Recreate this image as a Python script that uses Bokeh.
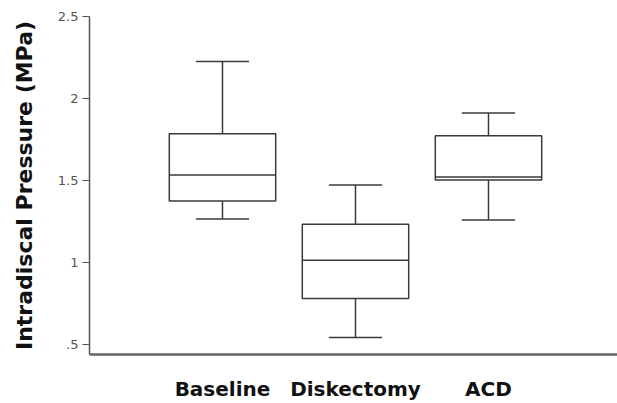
from bokeh.plotting import figure
from bokeh.models import FixedTicker, Range1d
from bokeh.embed import file_html
from bokeh.resources import INLINE

categories = ["Baseline", "Diskectomy", "ACD"]
positions = [1, 2, 3]
lower = [1.264, 0.542, 1.258]
q1 = [1.374, 0.780, 1.502]
median = [1.533, 1.013, 1.521]
q3 = [1.784, 1.233, 1.772]
upper = [2.225, 1.472, 1.912]
y_ticks = [0.5, 1.0, 1.5, 2.0, 2.5]
y_tick_labels = [".5", "1", "1.5", "2", "2.5"]

box_w = 0.8
cap_w = 0.4

p = figure(width=617, height=403, output_backend="svg", toolbar_location=None,
           x_range=Range1d(0, 3.97), y_range=Range1d(0.438, 2.5),
           min_border_left=89, min_border_right=0, min_border_top=16, min_border_bottom=49)
p.outline_line_color = None
p.xgrid.visible = False
p.ygrid.visible = False
p.background_fill_color = "white"

line_col = "#3a3a3a"
lw = 1.5

left = [x - box_w / 2 for x in positions]
right = [x + box_w / 2 for x in positions]
cl = [x - cap_w / 2 for x in positions]
cr = [x + cap_w / 2 for x in positions]

# whiskers
p.segment(x0=positions, y0=q3, x1=positions, y1=upper, line_color=line_col, line_width=lw)
p.segment(x0=positions, y0=lower, x1=positions, y1=q1, line_color=line_col, line_width=lw)
# caps
p.segment(x0=cl, y0=upper, x1=cr, y1=upper, line_color=line_col, line_width=lw)
p.segment(x0=cl, y0=lower, x1=cr, y1=lower, line_color=line_col, line_width=lw)
# boxes
p.quad(left=left, right=right, bottom=q1, top=q3, fill_color="white",
       line_color=line_col, line_width=lw)
# medians
p.segment(x0=left, y0=median, x1=right, y1=median, line_color=line_col, line_width=lw)

# y axis
p.yaxis.ticker = FixedTicker(ticks=y_ticks)
p.yaxis.major_label_overrides = {t: l for t, l in zip(y_ticks, y_tick_labels)}
p.yaxis.axis_label = "Intradiscal Pressure (MPa)"
p.yaxis.axis_label_text_font = "DejaVu Sans"
p.yaxis.axis_label_text_font_style = "bold"
p.yaxis.axis_label_text_font_size = "22px"
p.yaxis.axis_label_text_color = "#111111"
p.yaxis.axis_label_standoff = 18
p.yaxis.major_label_text_font = "DejaVu Sans"
p.yaxis.major_label_text_font_size = "13px"
p.yaxis.major_label_text_color = "#555555"
p.yaxis.major_label_standoff = 4
p.yaxis.major_tick_out = 7
p.yaxis.major_tick_in = 0
p.yaxis.minor_tick_line_color = None
p.yaxis.axis_line_color = "#555555"
p.yaxis.major_tick_line_color = "#555555"
p.yaxis.axis_line_width = 1.5

# x axis
p.xaxis.ticker = FixedTicker(ticks=positions)
p.xaxis.major_label_overrides = {x: c for x, c in zip(positions, categories)}
p.xaxis.major_label_text_font = "DejaVu Sans"
p.xaxis.major_label_text_font_style = "bold"
p.xaxis.major_label_text_font_size = "20px"
p.xaxis.major_label_text_color = "#111111"
p.xaxis.major_label_standoff = 16
p.xaxis.major_tick_line_color = None
p.xaxis.minor_tick_line_color = None
p.xaxis.axis_line_color = "#666666"
p.xaxis.axis_line_width = 2.5

open("out.html", "w").write(file_html(p, INLINE))
